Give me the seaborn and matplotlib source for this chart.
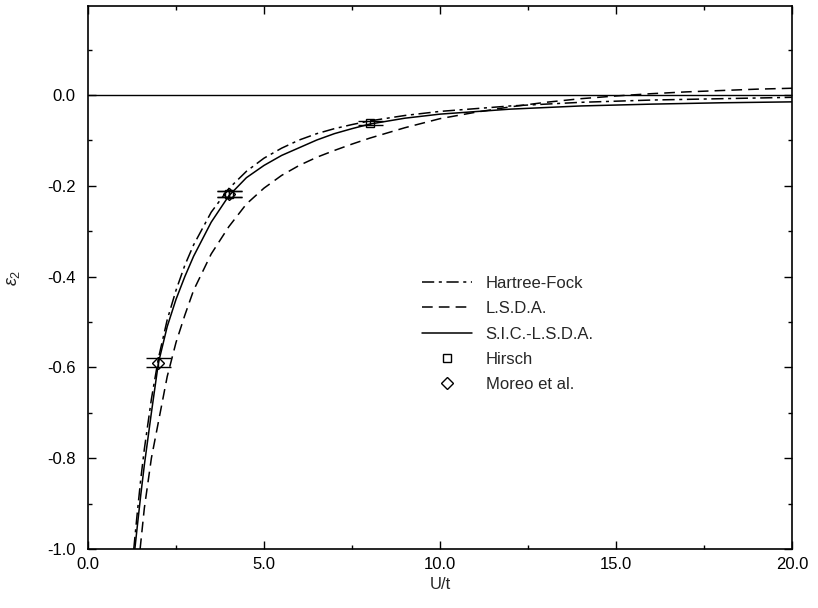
import matplotlib
matplotlib.use("Agg")
import matplotlib.pyplot as plt
from matplotlib.ticker import MultipleLocator, FormatStrFormatter
from matplotlib.container import ErrorbarContainer
import seaborn as sns

# ---- data ----
hf_u = [1.30, 1.4, 1.5, 1.6, 1.8, 2.0, 2.25, 2.5, 2.75, 3.0, 3.5, 4.0, 4.5, 5.0,
        5.5, 6.0, 6.5, 7.0, 7.5, 8.0, 9.0, 10.0, 12.0, 14.0, 16.0, 18.0, 20.0]
hf_e = [-1.00, -0.92, -0.845, -0.78, -0.67, -0.58, -0.495, -0.43, -0.375, -0.33,
        -0.258, -0.206, -0.168, -0.139, -0.117, -0.099, -0.085, -0.074, -0.065,
        -0.057, -0.045, -0.036, -0.024, -0.016, -0.011, -0.008, -0.005]

lsda_u = [1.48, 1.6, 1.8, 2.0, 2.25, 2.5, 2.75, 3.0, 3.5, 4.0, 4.5, 5.0, 5.5, 6.0,
          6.5, 7.0, 7.5, 8.0, 9.0, 10.0, 11.0, 12.0, 13.0, 14.0, 15.0, 16.0, 17.0,
          18.0, 19.0, 20.0]
lsda_e = [-1.00, -0.91, -0.80, -0.72, -0.62, -0.545, -0.485, -0.43, -0.35, -0.29,
          -0.24, -0.205, -0.177, -0.155, -0.137, -0.122, -0.108, -0.095, -0.072,
          -0.052, -0.038, -0.026, -0.016, -0.008, -0.002, 0.003, 0.007, 0.010,
          0.013, 0.015]

sic_u = [1.33, 1.4, 1.5, 1.6, 1.8, 2.0, 2.25, 2.5, 2.75, 3.0, 3.5, 4.0, 4.5, 5.0,
         5.5, 6.0, 6.5, 7.0, 7.5, 8.0, 9.0, 10.0, 12.0, 14.0, 16.0, 18.0, 20.0]
sic_e = [-1.00, -0.95, -0.88, -0.815, -0.70, -0.59, -0.51, -0.45, -0.40, -0.355,
         -0.28, -0.222, -0.182, -0.155, -0.133, -0.116, -0.099, -0.085, -0.074,
         -0.064, -0.051, -0.042, -0.031, -0.024, -0.020, -0.017, -0.015]

hirsch_u = [4.0, 8.0]
hirsch_e = [-0.218, -0.062]
hirsch_err = [0.007, 0.005]

moreo_u = [2.0, 4.0]
moreo_e = [-0.59, -0.218]
moreo_err = [0.010, 0.007]

x_ticks = [0.0, 5.0, 10.0, 15.0, 20.0]
y_ticks = [-1.0, -0.8, -0.6, -0.4, -0.2, 0.0]

# ---- plotting ----
sns.set_theme(style="ticks")
plt.rcParams["font.family"] = ["Liberation Sans", "DejaVu Sans"]
plt.rcParams["mathtext.fontset"] = "custom"
plt.rcParams["mathtext.rm"] = "Liberation Sans"
plt.rcParams["mathtext.it"] = "Liberation Sans:italic"

fig = plt.figure(figsize=(8.18, 6.08), dpi=100)
ax = fig.add_axes([0.1076, 0.097, 0.8606, 0.893])

ax.axhline(0.0, color="black", lw=1.0, zorder=1)

sns.lineplot(x=hf_u, y=hf_e, ax=ax, color="black", lw=1.1,
             label="Hartree-Fock", sort=False)
ax.lines[-1].set_dashes([8, 3, 2, 3])
sns.lineplot(x=lsda_u, y=lsda_e, ax=ax, color="black", lw=1.1,
             label="L.S.D.A.", sort=False)
ax.lines[-1].set_dashes([7, 4])
sns.lineplot(x=sic_u, y=sic_e, ax=ax, color="black", lw=1.1,
             label="S.I.C.-L.S.D.A.", sort=False)

ax.errorbar(hirsch_u, hirsch_e, yerr=hirsch_err, fmt="s", mfc="none", mec="black",
            ecolor="black", ms=6, mew=1.0, capsize=9, elinewidth=1.0,
            label="Hirsch", zorder=3)
ax.errorbar(moreo_u, moreo_e, yerr=moreo_err, fmt="D", mfc="none", mec="black",
            ecolor="black", ms=6, mew=1.0, capsize=9, elinewidth=1.0,
            label="Moreo et al.", zorder=3)

ax.set_xlim(0, 20)
ax.set_ylim(-1.0, 0.196)
ax.set_xticks(x_ticks)
ax.set_yticks(y_ticks)
ax.xaxis.set_major_formatter(FormatStrFormatter("%.1f"))
ax.yaxis.set_major_formatter(FormatStrFormatter("%.1f"))
ax.xaxis.set_minor_locator(MultipleLocator(2.5))
ax.yaxis.set_minor_locator(MultipleLocator(0.1))
ax.tick_params(which="both", direction="in", top=True, right=True,
               labelsize=12, colors="black")
ax.tick_params(axis="y", which="major", pad=9)
ax.tick_params(axis="x", which="major", pad=6)
ax.tick_params(which="major", length=6, width=1.0)
ax.tick_params(which="minor", length=3, width=1.0)
for s in ax.spines.values():
    s.set_linewidth(1.2)
    s.set_color("black")

ax.set_xlabel("U/t", fontsize=12, labelpad=3)
ax.set_ylabel(r"$\varepsilon_2$", fontsize=13, labelpad=18)

handles, labels = ax.get_legend_handles_labels()
new_h = []
for h in handles:
    if isinstance(h, ErrorbarContainer):
        new_h.append(h.lines[0])
    else:
        new_h.append(h)
leg = ax.legend(new_h, labels, loc="upper left", bbox_to_anchor=(0.475, 0.503),
                frameon=False, fontsize=12, handlelength=3.0, handletextpad=0.8,
                labelspacing=0.62, borderaxespad=0, borderpad=0)

fig.savefig("out.png", dpi=100)
